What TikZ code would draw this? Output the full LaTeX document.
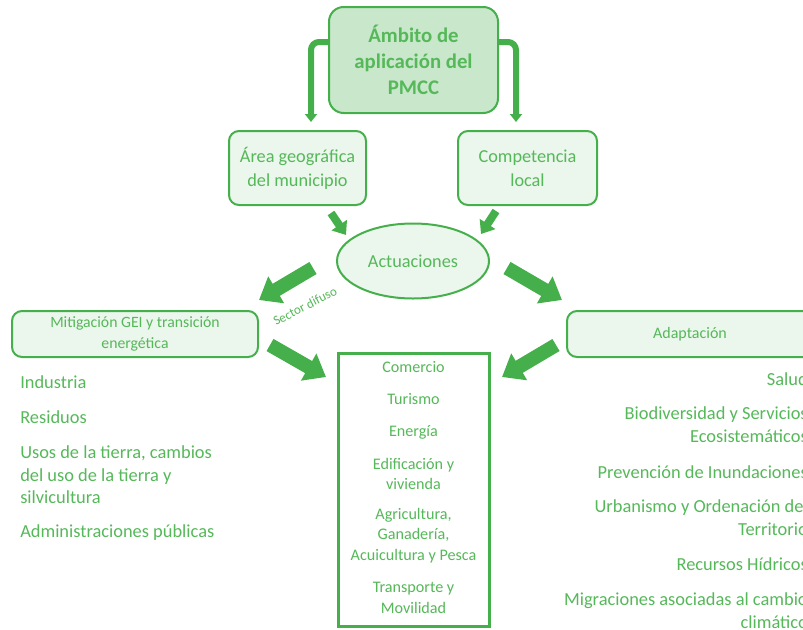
\documentclass[tikz,border=0pt]{standalone}
\usepackage{fontspec}
\setmainfont{Carlito}
\usetikzlibrary{arrows.meta,shapes.geometric}
\definecolor{verde}{HTML}{45B04B}
\definecolor{verdetexto}{HTML}{55B859}
\definecolor{fondo}{HTML}{C9E7CB}
\definecolor{fondoclaro}{HTML}{EBF6EC}
\tikzset{
  caja/.style={draw=verde, line width=1.5pt, rounded corners=7.5pt, fill=fondoclaro,
    text=verdetexto, align=center, inner sep=0pt},
  item/.style={text=verdetexto, inner sep=0pt},
  codo/.style={draw=verde, line width=4.5pt, rounded corners=6pt,
    -{Triangle[length=6pt,width=9pt]}},
  flecha/.style={draw=verde, line width=6pt, -{Triangle[length=9pt,width=13.5pt]}},
  flechona/.style={draw=verde, line width=10.5pt, -{Triangle[length=15pt,width=22.5pt]}},
}
\begin{document}
\begin{tikzpicture}[x=0.75pt,y=-0.75pt]
  \useasboundingbox (0,0) rectangle (803,629);
  \clip (0,0) rectangle (803,629);
  % cajas principales
  \node[caja, fill=fondo, rounded corners=11pt, minimum width=126.75pt, minimum height=79.5pt,
    font=\fontsize{15.6}{19.5}\selectfont\bfseries] (ambito) at (413.5,60)
    {Ámbito de\\aplicación del\\PMCC};
  \node[caja, minimum width=102.75pt, minimum height=55.5pt,
    font=\fontsize{13.7}{18}\selectfont] (area) at (297.5,168)
    {Área geográfica\\del municipio};
  \node[caja, minimum width=104.25pt, minimum height=55.5pt,
    font=\fontsize{13.7}{18}\selectfont] (comp) at (527.5,168)
    {Competencia\\local};
  \node[caja, ellipse, minimum width=114pt, minimum height=56.25pt,
    font=\fontsize{13.7}{15}\selectfont] (actu) at (413,261) {Actuaciones};
  \node[caja, minimum width=184.5pt, minimum height=34.5pt,
    font=\fontsize{11.8}{15.75}\selectfont] (mitig) at (135,334)
    {Mitigación GEI y transición\\energética};
  \node[caja, minimum width=184.5pt, minimum height=34.5pt,
    font=\fontsize{12}{15.75}\selectfont] (adapt) at (690,334) {Adaptación};
  \node[draw=verde, line width=2.25pt, fill=white, minimum width=113.25pt,
    minimum height=204.75pt, inner sep=0pt] (sectores) at (413.5,489.5) {};
  % flechas en codo
  \coordinate (codoA) at (311,122);
  \coordinate (codoB) at (516,122);
  \draw[codo] (ambito.west |- 0,42) -| (codoA);
  \draw[codo] (ambito.east |- 0,42) -| (codoB);
  % flechas de bloque
  \coordinate (a1) at (331,213); \coordinate (a2) at (346,235);
  \coordinate (b1) at (496,211); \coordinate (b2) at (481,234);
  \coordinate (c1) at (313,268); \coordinate (c2) at (259,300);
  \coordinate (d1) at (507,268); \coordinate (d2) at (562,300);
  \coordinate (e1) at (270,345); \coordinate (e2) at (326,377);
  \coordinate (f1) at (556,345); \coordinate (f2) at (502,377);
  \draw[flecha] (a1) -- (a2);
  \draw[flecha] (b1) -- (b2);
  \draw[flechona] (c1) -- (c2);
  \draw[flechona] (d1) -- (d2);
  \draw[flechona] (e1) -- (e2);
  \draw[flechona] (f1) -- (f2);
  \node[item, rotate=27, font=\fontsize{9.8}{11}\selectfont] (difuso) at (305,306) {Sector difuso};
  % sectores comunes
  \begin{scope}[every node/.style={item, align=center, font=\fontsize{12.1}{15.5}\selectfont}]
    \node (comercio) at (413.5,367) {Comercio};
    \node (turismo) at (413.5,399) {Turismo};
    \node (energia) at (413.5,432) {Energía};
    \node (edif) at (413.5,474) {Edificación y\\vivienda};
    \node (agri) at (413.5,535.5) {Agricultura,\\Ganadería,\\Acuicultura y Pesca};
    \node (transp) at (413.5,598) {Transporte y\\Movilidad};
  \end{scope}
  % lista de mitigacion
  \begin{scope}[every node/.style={item, anchor=west, align=left, font=\fontsize{13.8}{17}\selectfont}]
    \node (industria) at (20,382) {Industria};
    \node (residuos) at (20,417) {Residuos};
    \node (usos) at (20,475) {Usos de la tierra, cambios\\del uso de la tierra y\\silvicultura};
    \node (admin) at (20,533) {Administraciones públicas};
  \end{scope}
  % lista de adaptacion
  \begin{scope}[every node/.style={item, anchor=east, align=right, font=\fontsize{13.8}{17}\selectfont}]
    \node (salud) at (808,379) {Salud};
    \node (biodiv) at (808,425) {Biodiversidad y Servicios\\Ecosistemáticos};
    \node (inund) at (808,472) {Prevención de Inundaciones};
    \node (urban) at (808,518) {Urbanismo y Ordenación del\\Territorio};
    \node (recursos) at (808,564) {Recursos Hídricos};
    \node (migra) at (808,611) {Migraciones asociadas al cambio\\climático};
  \end{scope}
\end{tikzpicture}
\end{document}
